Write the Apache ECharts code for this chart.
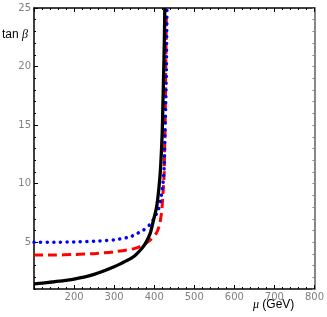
<!DOCTYPE html>
<html><head><meta charset="utf-8">
<script src="https://cdn.jsdelivr.net/npm/echarts@6/dist/echarts.min.js"></script>
<style>html,body{margin:0;padding:0;background:#fff}#c{width:327px;height:317px}</style>
</head><body><div id="c"></div>
<script>
// Data (mu in GeV, tan beta)
const blackCurve = [[100,1.43],[150,1.62],[200,1.85],[250,2.25],[300,2.9],[330,3.4],[350,3.8],[370,4.5],[380,5.0],[390,5.75],[397,6.7],[406,8.0],[412,9.7],[416,11.4],[420,14.3],[422,17.1],[424,20],[425.6,22.8],[426.5,25]];
const blueCurve = [[100,5.0],[150,5.0],[200,5.02],[250,5.08],[300,5.2],[340,5.45],[356,5.72],[372,6.0],[389,6.5],[399,7.0],[410,7.74],[416,8.6],[421,9.73],[425,11.44],[427,14.3],[429,17.1],[430.6,20],[431.3,22.8],[432,25]];
const redCurve = [[100,3.9],[150,3.9],[200,3.95],[250,4.02],[300,4.18],[350,4.45],[372,4.75],[389,5.15],[406,5.8],[414,6.6],[419,7.74],[422,9.17],[425,10.9],[425.8,12.6],[427,14.3],[428,17.1],[429,20],[430,22.8],[430.5,25]];
const xMin = 100, xMax = 800, xStep = 100;
const yMin = 1, yMax = 25;
const yLabel = 'tan', yLabelGreek = 'β';
const xLabelGreek = 'μ', xLabelUnit = ' (GeV)';

const chart = echarts.init(document.getElementById('c'), null, {renderer:'canvas'});
const labelStyle = {color:'#808080', fontSize:10, fontFamily:'DejaVu Sans'};
chart.setOption({
  animation:false,
  grid:{left:34, right:12, top:8, bottom:28},
  xAxis:[
    {type:'value', min:xMin, max:xMax, interval:xStep, position:'bottom',
     axisLine:{lineStyle:{color:'#000', width:1.5}},
     axisTick:{inside:true, length:4, lineStyle:{color:'#000'}},
     minorTick:{show:true, splitNumber:5, length:2, lineStyle:{color:'#000'}},
     axisLabel:Object.assign({margin:3, showMinLabel:false}, labelStyle),
     splitLine:{show:false}},
    {type:'value', min:xMin, max:xMax, interval:xStep, position:'top',
     axisLine:{lineStyle:{color:'#000', width:1.5}},
     axisTick:{inside:true, length:4, lineStyle:{color:'#000'}},
     minorTick:{show:true, splitNumber:5, length:2, lineStyle:{color:'#000'}},
     axisLabel:{show:false}, splitLine:{show:false}}
  ],
  yAxis:[
    {type:'value', min:yMin, max:yMax, splitNumber:5, position:'left',
     axisLine:{show:true, lineStyle:{color:'#000', width:1.5}},
     axisTick:{show:true, inside:true, length:4, lineStyle:{color:'#000'}},
     axisLabel:Object.assign({margin:3, showMinLabel:false}, labelStyle),
     splitLine:{show:false}},
    {type:'value', min:yMin, max:yMax, interval:1, position:'left',
     axisLine:{show:false},
     axisTick:{show:true, inside:true, length:2, lineStyle:{color:'#000'}},
     axisLabel:{show:false}, splitLine:{show:false}},
    {type:'value', min:yMin, max:yMax, interval:1, position:'right',
     axisLine:{show:true, lineStyle:{color:'#888', width:2}},
     axisTick:{show:true, inside:true, length:2, lineStyle:{color:'#888'}},
     axisLabel:{show:false}, splitLine:{show:false}}
  ],
  graphic:[
    {type:'text', left:2, top:29, style:{rich:{a:{fontSize:12, fontFamily:'Liberation Sans', fill:'#000'}, b:{fontSize:12, fontStyle:'italic', fontFamily:'Liberation Serif', fill:'#000'}}, text:'{a|'+yLabel+' }{b|'+yLabelGreek+'}'}},
    {type:'text', left:253, top:299, style:{rich:{a:{fontSize:12, fontFamily:'Liberation Sans', fill:'#000'}, b:{fontSize:12, fontStyle:'italic', fontFamily:'Liberation Serif', fill:'#000'}}, text:'{b|'+xLabelGreek+'}{a|'+xLabelUnit+'}'}}
  ],
  series:[
    {type:'line', data:redCurve, showSymbol:false, smooth:0.25, xAxisIndex:0, yAxisIndex:0, z:3,
     lineStyle:{color:'#ff0000', width:3, type:[9,5]}},
    {type:'line', data:blueCurve, showSymbol:false, smooth:0.25, xAxisIndex:0, yAxisIndex:0, z:4,
     lineStyle:{color:'#0000ff', width:3.5, type:[0.1,6.5], cap:'round'}},
    {type:'line', data:blackCurve, showSymbol:false, smooth:0.25, xAxisIndex:0, yAxisIndex:0, z:5,
     lineStyle:{color:'#000', width:3.3}}
  ]
});
</script></body></html>
